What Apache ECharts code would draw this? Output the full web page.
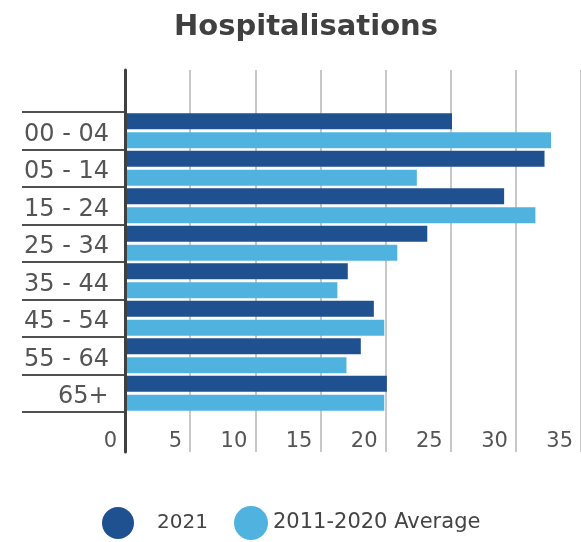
<!DOCTYPE html>
<html>
<head>
<meta charset="utf-8">
<script src="https://cdn.jsdelivr.net/npm/echarts@6/dist/echarts.min.js"></script>
<style>html,body{margin:0;padding:0;background:#fff;}#c{width:581px;height:542px;}</style>
</head>
<body>
<div id="c"></div>
<script>
var categories = ['00 - 04', '05 - 14', '15 - 24', '25 - 34', '35 - 44', '45 - 54', '55 - 64', '65+'];
var values2021 = [25.1, 32.2, 29.1, 23.2, 17.1, 19.1, 18.1, 20.1];
var valuesAvg = [32.7, 22.4, 31.5, 20.9, 16.3, 19.9, 17.0, 19.9];
var xTicks = [0, 5, 10, 15, 20, 25, 30, 35];

var FONT = 'DejaVu Sans';
var chart = echarts.init(document.getElementById('c'), null, {renderer: 'canvas'});
chart.setOption({
  animation: false,
  backgroundColor: '#fff',
  title: {
    text: 'Hospitalisations',
    left: 301, top: 8, textAlign: 'center',
    textStyle: {fontFamily: FONT, fontWeight: 'bold', fontSize: 29, color: '#404040'}
  },
  legend: [
    {
      left: 97, top: 502, itemWidth: 32, itemHeight: 32, icon: 'circle',
      data: ['2021'], selectedMode: false,
      textStyle: {fontFamily: FONT, fontSize: 20, color: '#444', padding: [0, 0, 0, 18]}
    },
    {
      left: 229, top: 501, itemWidth: 34, itemHeight: 34, icon: 'circle',
      data: ['2011-2020 Average'], selectedMode: false,
      textStyle: {fontFamily: FONT, fontSize: 21, color: '#444'}
    }
  ],
  grid: [
    {left: 125, top: 70, width: 456, height: 382, outerBoundsMode: 'none', containLabel: false},
    {left: 125, top: 112, width: 456, height: 300, outerBoundsMode: 'none', containLabel: false}
  ],
  xAxis: [
    {
      gridIndex: 0, type: 'value', min: xTicks[0], max: xTicks[xTicks.length - 1], interval: 5,
      axisLine: {show: false}, axisTick: {show: false},
      splitLine: {show: true, lineStyle: {color: '#c8c8c8', width: 2}},
      axisLabel: {
        inside: true, margin: 0, align: 'right', padding: [0, 8, 0, 0],
        fontFamily: FONT, fontSize: 21, color: '#555',
        showMaxLabel: true, showMinLabel: true
      }
    },
    {
      gridIndex: 1, type: 'value', min: xTicks[0], max: xTicks[xTicks.length - 1], interval: 5,
      show: false
    }
  ],
  yAxis: [
    {
      gridIndex: 0, type: 'value', min: 0, max: 1, z: 10,
      axisLine: {show: true, lineStyle: {color: '#404040', width: 3}},
      axisTick: {show: false}, axisLabel: {show: false}, splitLine: {show: false}
    },
    {
      gridIndex: 1, type: 'category', inverse: true,
      data: categories,
      axisLine: {show: false},
      axisTick: {show: true, interval: 0, length: 103, lineStyle: {color: '#505050', width: 2}},
      axisLabel: {
        interval: 0, align: 'left', margin: 101,
        formatter: function (v) { return v === '65+' ? '{b|' + v + '}' : '{a|' + v + '}'; },
        rich: {
          a: {fontFamily: FONT, fontSize: 24, color: '#555', padding: [8, 0, 0, 0]},
          b: {fontFamily: FONT, fontSize: 24, color: '#555', padding: [8, 0, 0, 34]}
        }
      },
      splitLine: {show: false}
    }
  ],
  series: [
    {
      name: '2021', type: 'bar', xAxisIndex: 1, yAxisIndex: 1,
      data: values2021, barWidth: 16, barGap: '18%',
      itemStyle: {color: '#1f5190'}
    },
    {
      name: '2011-2020 Average', type: 'bar', xAxisIndex: 1, yAxisIndex: 1,
      data: valuesAvg, barWidth: 16, barGap: '18%',
      itemStyle: {color: '#50b3df'}
    }
  ]
});
</script>
</body>
</html>
